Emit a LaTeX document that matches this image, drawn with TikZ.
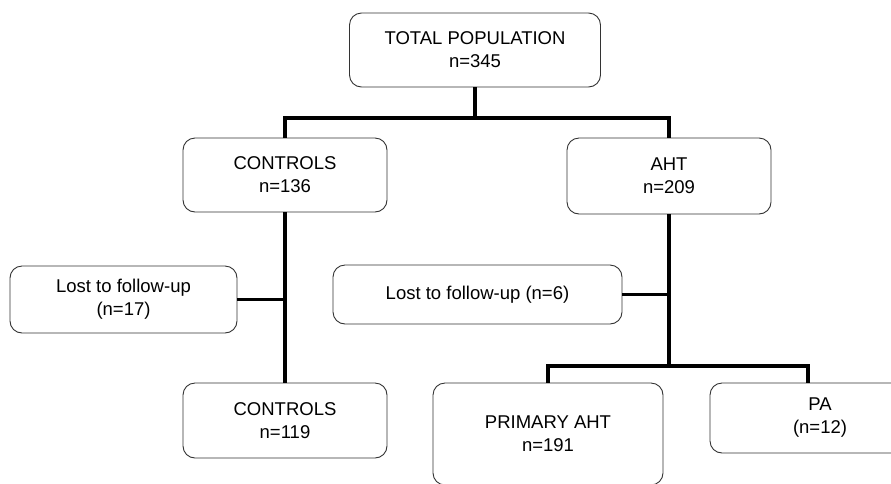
\documentclass[tikz,border=0pt]{standalone}
\usepackage{fontspec}
\setmainfont{Liberation Sans}

\tikzset{
  stagebox/.style={draw=black!80, line width=0.9pt, rounded corners=12pt, fill=white,
    align=center, font=\fontsize{18.5}{23}\selectfont, inner sep=0pt},
  link/.style={line width=3.4pt, color=black}
}

\begin{document}
\begin{tikzpicture}[x=1pt, y=-1pt]

 \clip (0,0) rectangle (891,483);

 %%%%%%%%%% Boxes %%%%%%%%%%
 \node[stagebox, minimum width=251, minimum height=74] (total) at (475,50) {TOTAL POPULATION\\n=345};
 \node[stagebox, minimum width=204, minimum height=74] (ctl) at (285,175) {CONTROLS\\n=136};
 \node[stagebox, minimum width=204, minimum height=76] (aht) at (669,176) {AHT\\n=209};
 \node[stagebox, minimum width=227, minimum height=67] (lostctl) at (123.5,299.5) {Lost to follow-up\\(n=17)};
 \node[stagebox, minimum width=289, minimum height=59] (lostaht) at (477.5,294.5) {Lost to follow-up (n=6)};
 \node[stagebox, minimum width=204, minimum height=75] (ctlend) at (285,420.5) {CONTROLS\\n=119};
 \node[stagebox, minimum width=230, minimum height=102] (prim) at (548,434) {PRIMARY AHT\\n=191};
 \node[stagebox, minimum width=220, minimum height=70] (pa) at (820,418) {PA\\(n=12)};

 %%%%%%%%%% Split points %%%%%%%%%%
 \coordinate (topsplit) at (475,118);
 \coordinate (ahtsplit) at (669,366);
 \coordinate (pain) at ([xshift=-12pt]pa.north);

 %%%%%%%%%% Links %%%%%%%%%%
 \draw[link] (total.south) -- (topsplit);
 \draw[link] (topsplit) -| (ctl.north);
 \draw[link] (topsplit) -| (aht.north);

 \draw[link] (ctl.south) -- (ctlend.north);
 \draw[link] (lostctl.east) -- (lostctl.east -| ctl.south);

 \draw[link] (aht.south) -- (ahtsplit);
 \draw[link] (lostaht.east) -- (lostaht.east -| aht.south);
 \draw[link] (ahtsplit) -| (prim.north);
 \draw[link] (ahtsplit) -| (pain);

\end{tikzpicture}
\end{document}
